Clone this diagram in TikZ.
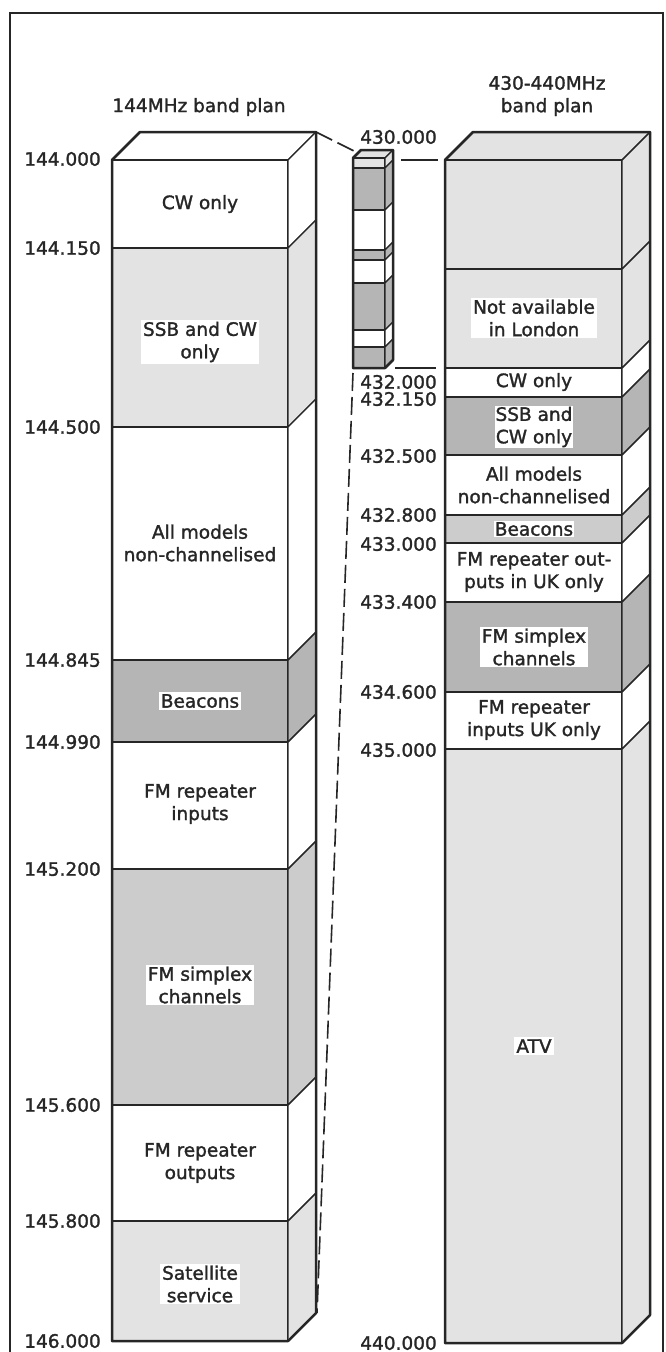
\documentclass[tikz,border=0pt]{standalone}
\usepackage{fontspec}
\setmainfont{DejaVu Sans}
\newfontfamily\bandface{DejaVu Sans}[FakeBold=1.5]
\usepackage{xcolor}
\usepackage{tikz}
\usetikzlibrary{positioning, calc}

\definecolor{lightdot}{gray}{0.89}
\definecolor{middot}{gray}{0.80}
\definecolor{darkdot}{gray}{0.71}
\definecolor{ink}{gray}{0.15}

\newcommand{\bandfont}{\bandface\fontsize{18.5}{22.5}\selectfont}

% one slice of a column: front face and side face
\newcommand{\bandslice}[6]{%
  \filldraw[slice, fill=#6] (#1,#4) rectangle (#2,#5);
  \filldraw[slice, fill=#6] (#2,#4) -- ++(#3,-#3) -- ++(0,{#5-#4}) -- (#2,#5) -- cycle;
}
% lid of a column
\newcommand{\bandlid}[5]{%
  \filldraw[slice, fill=#5] (#1,#4) -- ++(#3,-#3) -- ++({#2-#1},0) -- (#2,#4) -- cycle;
}
% heavy outline round a column
\newcommand{\bandrim}[5]{%
  \draw[rim] (#1,#5) -- (#1,#4) -- ++(#3,-#3) -- ++({#2-#1},0) -- ++(0,{#5-#4}) -- (#2,#5) -- cycle;
}

\begin{document}
\begin{tikzpicture}[
  x=1pt, y=-1pt,
  font=\bandfont,
  every node/.style={text=ink},
  slice/.style={draw=ink, line width=1.4pt, line join=round},
  rim/.style={draw=ink, line width=2.5pt, line join=round},
  seglabel/.style={fill=white, inner sep=2pt, align=center},
  freqlabel/.style={anchor=east, inner sep=0pt},
  zoomdash/.style={draw=ink, line width=1.6pt, dash pattern=on 18pt off 6pt},
  zoomline/.style={draw=ink, line width=1.6pt}
]
\useasboundingbox (0,0) rectangle (665,1352);

% frame
\draw[draw=ink, line width=2.4pt] (10,1352) -- (10,13) -- (663,13) -- (663,1352);

% titles
\node (title144) at (199,107) {144MHz band plan};
\node[align=center] (title430) at (547,96) {430-440MHz\\band plan};

% 144MHz column
\bandlid{112}{288}{28}{160}{white}
\bandslice{112}{288}{28}{160}{248}{white}
\bandslice{112}{288}{28}{248}{427}{lightdot}
\bandslice{112}{288}{28}{427}{660}{white}
\bandslice{112}{288}{28}{660}{742}{darkdot}
\bandslice{112}{288}{28}{742}{869}{white}
\bandslice{112}{288}{28}{869}{1105}{middot}
\bandslice{112}{288}{28}{1105}{1221}{white}
\bandslice{112}{288}{28}{1221}{1341}{lightdot}
\bandrim{112}{288}{28}{160}{1341}

\node[seglabel] (lcw) at (200,204) {CW only};
\node[seglabel] (lssb) at (200,342) {SSB and CW\\only};
\node[seglabel] (lall) at (200,543) {All models\\non-channelised};
\node[seglabel] (lbeac) at (200,701) {Beacons};
\node[seglabel] (lfmin) at (200,804) {FM repeater\\inputs};
\node[seglabel] (lfmsx) at (200,985) {FM simplex\\channels};
\node[seglabel] (lfmout) at (200,1163) {FM repeater\\outputs};
\node[seglabel] (lsat) at (200,1284) {Satellite\\service};

\node[freqlabel] (f144000) at (101,159) {144.000};
\node[freqlabel] (f144150) at (101,248) {144.150};
\node[freqlabel] (f144500) at (101,427) {144.500};
\node[freqlabel] (f144845) at (101,660) {144.845};
\node[freqlabel] (f144990) at (101,742) {144.990};
\node[freqlabel] (f145200) at (101,869) {145.200};
\node[freqlabel] (f145600) at (101,1105) {145.600};
\node[freqlabel] (f145800) at (101,1221) {145.800};
\node[freqlabel] (f146000) at (101,1341) {146.000};

% small stack: the whole 430-440MHz plan in miniature
\bandlid{353}{385}{8}{158}{lightdot}
\bandslice{353}{385}{8}{158}{168}{lightdot}
\bandslice{353}{385}{8}{168}{210}{darkdot}
\bandslice{353}{385}{8}{210}{250}{white}
\bandslice{353}{385}{8}{250}{260}{darkdot}
\bandslice{353}{385}{8}{260}{283}{white}
\bandslice{353}{385}{8}{283}{330}{darkdot}
\bandslice{353}{385}{8}{330}{347}{white}
\bandslice{353}{385}{8}{347}{368}{darkdot}
\bandrim{353}{385}{8}{158}{368}

% 430-440MHz column
\bandlid{445}{622}{28}{160}{lightdot}
\bandslice{445}{622}{28}{160}{269}{lightdot}
\bandslice{445}{622}{28}{269}{368}{lightdot}
\bandslice{445}{622}{28}{368}{397}{white}
\bandslice{445}{622}{28}{397}{455}{darkdot}
\bandslice{445}{622}{28}{455}{515}{white}
\bandslice{445}{622}{28}{515}{543}{middot}
\bandslice{445}{622}{28}{543}{602}{white}
\bandslice{445}{622}{28}{602}{692}{darkdot}
\bandslice{445}{622}{28}{692}{749}{white}
\bandslice{445}{622}{28}{749}{1343}{lightdot}
\bandrim{445}{622}{28}{160}{1343}

\node[seglabel] (rna) at (534,318) {Not available\\in London};
\node[seglabel, inner sep=1pt] (rcw) at (534,382) {CW only};
\node[seglabel, inner sep=1pt] (rssb) at (534,427) {SSB and\\CW only};
\node[seglabel, inner sep=1pt] (rall) at (534,485) {All models\\non-channelised};
\node[seglabel, inner sep=1pt] (rbeac) at (534,529) {Beacons};
\node[seglabel, inner sep=1pt] (rfmout) at (534,572) {FM repeater out-\\puts in UK only};
\node[seglabel] (rfmsx) at (534,647) {FM simplex\\channels};
\node[seglabel, inner sep=1pt] (rfmin) at (534,720) {FM repeater\\inputs UK only};
\node[seglabel] (ratv) at (534,1046) {ATV};

\node[freqlabel] (f430000) at (437,137) {430.000};
\node[freqlabel] (f432000) at (437,382) {432.000};
\node[freqlabel] (f432150) at (437,399) {432.150};
\node[freqlabel] (f432500) at (437,456) {432.500};
\node[freqlabel] (f432800) at (437,515) {432.800};
\node[freqlabel] (f433000) at (437,544) {433.000};
\node[freqlabel] (f433400) at (437,602) {433.400};
\node[freqlabel] (f434600) at (437,692) {434.600};
\node[freqlabel] (f435000) at (437,750) {435.000};
\node[freqlabel] (f440000) at (437,1343) {440.000};

% zoom lines between the columns
\coordinate (ltopback) at (316,132);
\coordinate (lbotback) at (317,1313);
\coordinate (stacktop) at (356,152);
\coordinate (stackbot) at (353,373);
\coordinate (stacktopR) at (401,160);
\coordinate (stackbotR) at (395,368);
\coordinate (rtop) at (438,160);
\coordinate (r432) at (436,368);

\draw[zoomdash] (ltopback) -- (stacktop);
\draw[zoomdash] (stackbot) -- (lbotback);
\draw[zoomline] (stacktopR) -- (rtop);
\draw[zoomline] (stackbotR) -- (r432);

\end{tikzpicture}
\end{document}
